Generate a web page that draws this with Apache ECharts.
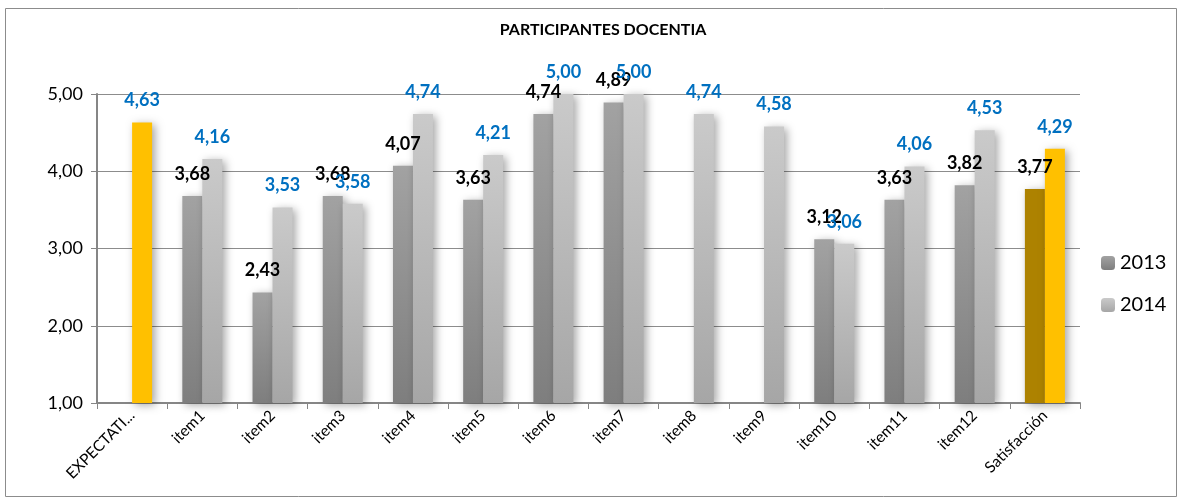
<!DOCTYPE html>
<html>
<head>
<meta charset="utf-8">
<script src="https://cdn.jsdelivr.net/npm/echarts@6/dist/echarts.min.js"></script>
<style>
  html, body { margin: 0; padding: 0; background: #fff; }
  #chart { width: 1182px; height: 502px; }
</style>
</head>
<body>
<div id="chart"></div>
<script>
var categories = ['EXPECTATIVAS', 'item1', 'item2', 'item3', 'item4', 'item5', 'item6',
                  'item7', 'item8', 'item9', 'item10', 'item11', 'item12', 'Satisfacción'];
var values2013 = [null, 3.68, 2.43, 3.68, 4.07, 3.63, 4.74, 4.89, null, null, 3.12, 3.63, 3.82, 3.77];
var values2014 = [4.63, 4.16, 3.53, 3.58, 4.74, 4.21, 5.00, 5.00, 4.74, 4.58, 3.06, 4.06, 4.53, 4.29];
var goldCats = ['EXPECTATIVAS', 'Satisfacción'];//categorías resaltadas en dorado

var font = 'Lato, "Liberation Sans", sans-serif';
var chart = echarts.init(document.getElementById('chart'));

function fmt(v) {
  return v.toFixed(2).replace('.', ',');
}

function grad(top, bottom) {
  return new echarts.graphic.LinearGradient(0, 0, 0, 1, [
    { offset: 0, color: top },
    { offset: 1, color: bottom }
  ]);
}

var gray13 = grad('#a2a2a2', '#7e7e7e');
var gray14 = grad('#cacaca', '#a6a6a6');

function buildData(values, goldColor) {
  return values.map(function (v, i) {
    if (goldCats.indexOf(categories[i]) >= 0) {
      return { value: v, itemStyle: { color: goldColor } };
    }
    return v;
  });
}

var shadow = {
  shadowBlur: 8,
  shadowColor: 'rgba(0,0,0,0.35)',
  shadowOffsetX: 3,
  shadowOffsetY: 2
};

chart.setOption({
  animation: false,
  textStyle: { fontFamily: font },
  title: {
    text: 'PARTICIPANTES DOCENTIA',
    left: 598,
    textAlign: 'center',
    top: 17,
    textStyle: { fontSize: 16, fontWeight: 'bold', color: '#000', fontFamily: font }
  },
  legend: {
    orient: 'vertical',
    left: 1096,
    top: 248,
    itemWidth: 14,
    itemHeight: 14,
    itemGap: 22,
    textStyle: { fontSize: 20, color: '#000', fontFamily: font },
    data: ['2013', '2014']
  },
  graphic: [{
    type: 'rect',
    shape: { x: 5.5, y: 8.5, width: 1171, height: 488 },
    style: { fill: 'none', stroke: '#8c8c8c', lineWidth: 1 }
  }],
  grid: { left: 97, right: 102, top: 94, bottom: 99 },
  xAxis: {
    type: 'category',
    data: categories,
    axisLine: { lineStyle: { color: '#868686', width: 2 } },
    axisTick: { show: true, length: 6, lineStyle: { color: '#868686' } },
    axisLabel: {
      rotate: 45,
      fontSize: 15.5,
      color: '#000',
      margin: 10,
      interval: 0,
      fontFamily: font,
      formatter: function (v) {
        // el rótulo largo en mayúsculas sale recortado
        return (v.length > 11 && v === v.toUpperCase()) ? v.slice(0, 9) + '...' : v;
      }
    }
  },
  yAxis: {
    type: 'value',
    min: 1,
    max: 5,
    interval: 1,
    axisLine: { show: true, lineStyle: { color: '#868686', width: 2 } },
    axisTick: { show: true, length: 6, lineStyle: { color: '#868686' } },
    axisLabel: { fontSize: 18, color: '#000', margin: 14, fontFamily: font, formatter: fmt },
    splitLine: { lineStyle: { color: '#8c8c8c', width: 1 } }
  },
  series: [{
    name: '2013',
    type: 'bar',
    barWidth: 20,
    barGap: '0%',
    itemStyle: Object.assign({ color: gray13 }, shadow),
    label: {
      show: true,
      position: 'top',
      distance: 13,
      fontSize: 18,
      fontWeight: 'bold',
      color: '#000',
      fontFamily: font,
      formatter: function (p) { return fmt(p.value); }
    },
    data: buildData(values2013, '#ad8200')
  }, {
    name: '2014',
    type: 'bar',
    barWidth: 20,
    barGap: '0%',
    itemStyle: Object.assign({ color: gray14 }, shadow),
    label: {
      show: true,
      position: 'top',
      distance: 13,
      fontSize: 18,
      fontWeight: 'bold',
      color: '#0070c0',
      fontFamily: font,
      formatter: function (p) { return fmt(p.value); }
    },
    data: buildData(values2014, '#ffc000')
  }]
});
</script>
</body>
</html>
